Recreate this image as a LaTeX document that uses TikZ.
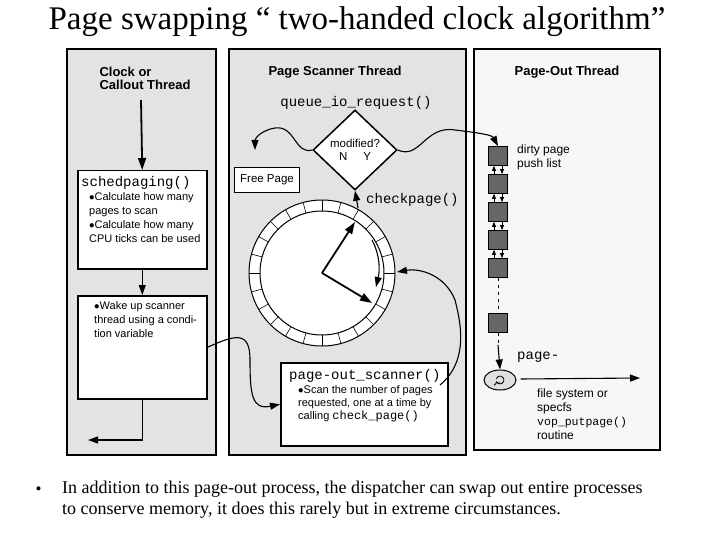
\documentclass[tikz,border=0pt]{standalone}
\usepackage{fontspec}
\setmainfont{Liberation Serif}
\newfontfamily\sansf{Liberation Sans}
\newfontfamily\monof{Liberation Mono}
\usetikzlibrary{shapes.geometric,arrows.meta,calc}
\begin{document}
\begin{tikzpicture}[x=1pt,y=-1pt,
  panel/.style={draw=black,line width=1.5pt},
  wbox/.style={draw=black,line width=1.5pt,fill=white},
  hd/.style={font=\sansf\bfseries\fontsize{13}{15}\selectfont,align=left},
  sm/.style={font=\sansf\fontsize{11}{14}\selectfont,align=left,anchor=north west,inner sep=0},
  mono/.style={font=\monof\fontsize{14}{15}\selectfont,inner sep=0},
  arr/.style={-{Triangle[length=12pt,width=8pt]},line width=1.8pt},
  carr/.style={-{Triangle[length=10pt,width=7pt]},line width=1.1pt},
  pg/.style={draw=black,fill=black!60,minimum size=19pt,inner sep=0,line width=0.8pt},
  sarr/.style={-{Triangle[length=5pt,width=4pt]},line width=0.8pt}]
\useasboundingbox (0,0) rectangle (720,540);
\node (title) at (357,22) {\fontsize{33}{36}\selectfont Page swapping “ two-handed clock algorithm”};
% panels
\draw[panel,fill=black!11] (67,49) rectangle (216,455);
\draw[panel,fill=black!11] (229,49) rectangle (466,455);
\draw[panel,fill=black!3] (474,49) rectangle (660,450);
% left
\node[hd,anchor=north west] (clk) at (96,64) {Clock or\\[-2pt]Callout Thread};
\coordinate (c1) at (141,100);
\node[wbox,minimum width=129pt,minimum height=98pt,anchor=north west] (sched) at (77,170) {};
\draw[arr] (c1) -- (sched.north);
\node[mono,anchor=north west] (schedt) at (81,176) {schedpaging()};
\node[sm] (schedb) at (89,192) {$\bullet$Calculate how many\\pages to scan\\$\bullet$Calculate how many\\CPU ticks can be used};
\node[wbox,minimum width=129pt,minimum height=103pt,anchor=north west] (wake) at (77,295) {};
\draw[carr] (sched.south) -- (wake.north);
\node[sm] (waket) at (94,301) {$\bullet$Wake up scanner\\thread using a condi-\\tion variable};
\coordinate (wl) at (88,440);
\draw[carr] (wake.south) |- (wl);
% middle
\node[hd] (pst) at (335,72) {Page Scanner Thread};
\node[mono] (qio) at (356,103) {queue\_io\_request()};
\node[diamond,draw=black,line width=1.5pt,fill=white,minimum width=84pt,minimum height=80pt,inner sep=0] (dia) at (355,150) {};
\node[font=\sansf\fontsize{11.5}{13.5}\selectfont,align=center] (diat) at (355,150) {modified?\\N\hspace{16pt}Y};
\node[wbox,font=\sansf\fontsize{11.5}{13}\selectfont,minimum width=65pt,minimum height=25pt,inner sep=0] (free) at (267,180) {Free Page};
\coordinate (fa) at (255,150);
\draw[carr] (dia.west) .. controls (295,155) and (295,125) .. (275,128) .. controls (262,130) and (255,138) .. (fa);
% clock
\coordinate (cc) at (322,273);
\draw[line width=1pt,fill=white] (cc) circle (73);
\draw[line width=1pt] (cc) circle (62);
\foreach \a in {0,15,...,345} \draw[line width=0.6pt] ($(cc)+(\a:62)$) -- ($(cc)+(\a:73)$);
\draw[arr] (cc) -- (355,222);
\draw[arr] (cc) -- (372,303);
\draw[carr] (372,240) .. controls (380,255) and (380,270) .. (376,287);
\node[mono,anchor=west] (chk) at (366,200) {checkpage()};
\draw[carr] (358,208) -- (dia.south);
\node[wbox,minimum width=167pt,minimum height=83pt,anchor=north west] (pos) at (280,362) {};
\node[mono,anchor=north west] (post) at (289,369) {page-out\_scanner()};
\node[sm,font=\sansf\fontsize{11}{13}\selectfont] (posb) at (298,385) {$\bullet$Scan the number of pages\\requested, one at a time by\\calling {\monof\fontsize{12}{13}\selectfont check\_page()}};
\draw[carr] (wake.east) .. controls (235,335) and (250,330) .. (250,360) .. controls (250,395) and (252,410) .. (pos.west);
\coordinate (pe) at (440,385);
\draw[carr] (pe) .. controls (470,360) and (460,320) .. (455,300) .. controls (445,275) and (420,268) .. (397,272);
% right
\node[hd] (pot) at (567,72) {Page-Out Thread};
\foreach \i/\y in {1/156,2/184,3/212,4/240,5/268,6/323} \node[pg] (d\i) at (498,\y) {};
\foreach \i/\j in {1/2,2/3,3/4,4/5} {
  \draw[sarr] ([xshift=-4pt]d\j.north) -- ([xshift=-4pt]d\i.south);
  \draw[sarr] ([xshift=4pt]d\i.south) -- ([xshift=4pt]d\j.north);}
\draw[dash pattern=on 3pt off 4pt,line width=1pt] (d5.south) -- (d6.north);
\draw[carr] (dia.east) .. controls (420,160) and (425,125) .. (455,130) .. controls (480,133) and (492,135) .. (d1.north);
\node[sm,font=\sansf\fontsize{12}{14}\selectfont] (dpl) at (517,145) {dirty page\\push list};
\node[draw=black,line width=1pt,fill=black!12,ellipse,minimum width=32pt,minimum height=20pt,inner sep=0] (el) at (500,380) {};
\draw[line width=0.8pt,->] ([shift={(200:4)}]el.center) arc (200:520:4);
\draw[dash pattern=on 3pt off 4pt,line width=1pt] (d6.south) -- (498,345);
\draw[carr] (498,345) -- (el.north);
\node[mono,anchor=west] (pgm) at (517,357) {page-};
\coordinate (er) at (640,378);
\draw[carr] (el.east) ++(4,-1) -- (er);
\node[sm,font=\sansf\fontsize{12}{14}\selectfont] (fs) at (537,389) {file system or\\specfs\\{\monof\fontsize{11.5}{14}\selectfont vop\_putpage()}\\routine};
% bottom text
\node[anchor=west] (bul) at (32,491) {\fontsize{17}{20}\selectfont •};
\node[anchor=north west,align=left,inner sep=0,font=\fontsize{18}{21}\selectfont] (bt) at (62,481) {In addition to this page-out process, the dispatcher can swap out entire processes\\ to conserve memory, it does this rarely but in extreme circumstances.};
\end{tikzpicture}
\end{document}
